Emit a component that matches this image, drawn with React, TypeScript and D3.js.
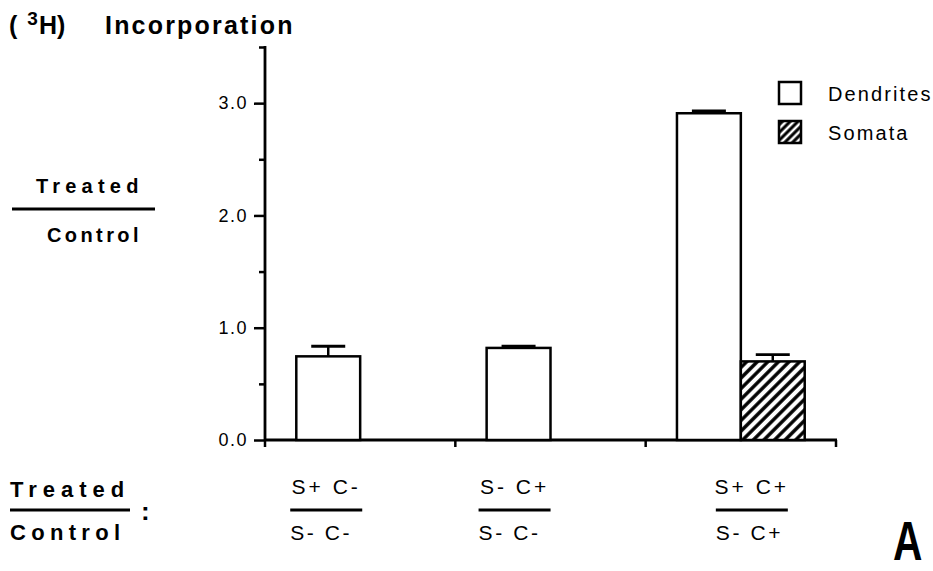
import React, { useRef, useEffect } from 'react';
import { select, scaleBand, scaleLinear, axisLeft, format, mean } from 'd3';

// treated / control ratio groups
const numerators = ['S+ C-', 'S- C+', 'S+ C+'];
const denominators = ['S- C-', 'S- C-', 'S- C+'];
const seriesNames = ['Dendrites', 'Somata'];

// values (null = no bar)
const dendrites = [0.745, 0.82, 2.91];
const dendritesErr = [0.09, 0.015, 0.02];
const somata = [null, null, 0.7];
const somataErr = [null, null, 0.06];

const majorTicks = [0, 1, 2, 3];
const minorTicks = [0.5, 1.5, 2.5, 3.5];

const FONT = '"Liberation Sans", Arial, Helvetica, sans-serif';

function App() {
  const svgRef = useRef(null);

  useEffect(() => {
    const width = 933;
    const height = 571;
    const svg = select(svgRef.current).attr('width', width).attr('height', height);
    svg.selectAll('*').remove();

    const defs = svg.append('defs');
    const addHatch = (id, size, stroke) => {
      const p = defs
        .append('pattern')
        .attr('id', id)
        .attr('patternUnits', 'userSpaceOnUse')
        .attr('width', size)
        .attr('height', size)
        .attr('patternTransform', 'rotate(45)');
      p.append('rect').attr('width', size).attr('height', size).attr('fill', '#fff');
      p.append('line')
        .attr('x1', size / 2)
        .attr('x2', size / 2)
        .attr('y1', 0)
        .attr('y2', size)
        .attr('stroke', '#000')
        .attr('stroke-width', stroke);
    };
    addHatch('hatch', 7.5, 3.4);
    addHatch('hatchSmall', 5.5, 3);

    const yScale = scaleLinear().domain([0, 3.5]).range([440, 47]);
    const xScale = scaleBand().domain(numerators).range([265, 836]).padding(0);
    const xSub = scaleBand()
      .domain(seriesNames)
      .range([0, xScale.bandwidth()])
      .paddingInner(0)
      .paddingOuter(0.49);

    // y axis: major ticks with labels
    const yAxis = svg
      .append('g')
      .attr('transform', 'translate(265,0)')
      .call(
        axisLeft(yScale)
          .tickValues(majorTicks)
          .tickSize(11)
          .tickSizeOuter(0)
          .tickPadding(6)
          .tickFormat(format('.1f'))
      );
    yAxis.select('.domain').remove();
    yAxis.selectAll('line').attr('stroke', '#000').attr('stroke-width', 2.5);
    yAxis
      .selectAll('text')
      .attr('font-family', FONT)
      .attr('font-size', 18)
      .attr('letter-spacing', 1.5)
      .attr('fill', '#000');

    // minor ticks
    const yMinor = svg
      .append('g')
      .attr('transform', 'translate(265,0)')
      .call(axisLeft(yScale).tickValues(minorTicks).tickSize(6).tickSizeOuter(0).tickFormat(() => ''));
    yMinor.select('.domain').remove();
    yMinor.selectAll('line').attr('stroke', '#000').attr('stroke-width', 2.5);

    svg
      .append('line')
      .attr('x1', 265)
      .attr('x2', 265)
      .attr('y1', yScale(0) + 1)
      .attr('y2', yScale(3.5) - 1)
      .attr('stroke', '#000')
      .attr('stroke-width', 2.8);

    // x axis with ticks at group boundaries
    const [x0, x1] = xScale.range();
    svg
      .append('line')
      .attr('x1', x0)
      .attr('x2', x1 + 1)
      .attr('y1', yScale(0))
      .attr('y2', yScale(0))
      .attr('stroke', '#000')
      .attr('stroke-width', 2.8);
    const edges = numerators.map((c) => xScale(c)).concat([x1]);
    svg
      .selectAll('.xtick')
      .data(edges)
      .join('line')
      .attr('class', 'xtick')
      .attr('x1', (d) => d)
      .attr('x2', (d) => d)
      .attr('y1', yScale(0))
      .attr('y2', yScale(0) + 7)
      .attr('stroke', '#000')
      .attr('stroke-width', 2.5);

    // bars
    const bars = [];
    numerators.forEach((cat, i) => {
      if (dendrites[i] != null)
        bars.push({ cat, series: 'Dendrites', value: dendrites[i], err: dendritesErr[i], fill: '#fff' });
      if (somata[i] != null)
        bars.push({ cat, series: 'Somata', value: somata[i], err: somataErr[i], fill: 'url(#hatch)' });
    });

    const g = svg.append('g');
    g.selectAll('.bar')
      .data(bars)
      .join('rect')
      .attr('class', 'bar')
      .attr('x', (d) => xScale(d.cat) + xSub(d.series))
      .attr('y', (d) => yScale(d.value))
      .attr('width', xSub.bandwidth())
      .attr('height', (d) => yScale(0) - yScale(d.value))
      .attr('fill', (d) => d.fill)
      .attr('stroke', '#000')
      .attr('stroke-width', 2.5);

    // error bars (upper only)
    const cx = (d) => xScale(d.cat) + xSub(d.series) + xSub.bandwidth() / 2;
    g.selectAll('.err')
      .data(bars)
      .join('line')
      .attr('class', 'err')
      .attr('x1', cx)
      .attr('x2', cx)
      .attr('y1', (d) => yScale(d.value))
      .attr('y2', (d) => yScale(d.value + d.err))
      .attr('stroke', '#000')
      .attr('stroke-width', 2.5);
    g.selectAll('.cap')
      .data(bars)
      .join('line')
      .attr('class', 'cap')
      .attr('x1', (d) => cx(d) - 17)
      .attr('x2', (d) => cx(d) + 17)
      .attr('y1', (d) => yScale(d.value + d.err))
      .attr('y2', (d) => yScale(d.value + d.err))
      .attr('stroke', '#000')
      .attr('stroke-width', 2.8);

    // legend
    const legend = svg.append('g').attr('transform', 'translate(779,82)');
    const legendFills = ['#fff', 'url(#hatchSmall)'];
    seriesNames.forEach((name, i) => {
      const row = legend.append('g').attr('transform', `translate(0,${i * 39})`);
      row
        .append('rect')
        .attr('width', 22)
        .attr('height', 22)
        .attr('fill', legendFills[i])
        .attr('stroke', '#000')
        .attr('stroke-width', 2.5);
      row
        .append('text')
        .attr('x', 49)
        .attr('y', 19)
        .attr('font-family', FONT)
        .attr('font-size', 20)
        .attr('letter-spacing', 2.1)
        .text(name);
    });

    // group labels under the x axis, centred on the bars of each group
    const shift = [-2, -4, 11];
    numerators.forEach((num, i) => {
      const centres = bars.filter((b) => b.cat === num).map(cx);
      const c = mean(centres) + shift[i];
      svg
        .append('text')
        .attr('x', c)
        .attr('y', 494)
        .attr('text-anchor', 'middle')
        .attr('font-family', FONT)
        .attr('font-size', 21)
        .attr('letter-spacing', 3)
        .text(num);
      svg
        .append('line')
        .attr('x1', c - 36)
        .attr('x2', c + 36)
        .attr('y1', 510)
        .attr('y2', 510)
        .attr('stroke', '#000')
        .attr('stroke-width', 2.8);
      svg
        .append('text')
        .attr('x', c - 36)
        .attr('y', 540)
        .attr('font-family', FONT)
        .attr('font-size', 21)
        .attr('letter-spacing', 2.6)
        .text(denominators[i]);
    });

    // left-hand fraction labels
    const bold = (sel) =>
      sel.attr('font-family', FONT).attr('font-weight', 'bold').attr('fill', '#000');

    bold(svg.append('text'))
      .attr('x', 36)
      .attr('y', 193)
      .attr('font-size', 20)
      .attr('letter-spacing', 5.2)
      .text('Treated');
    svg
      .append('line')
      .attr('x1', 12)
      .attr('x2', 155)
      .attr('y1', 209)
      .attr('y2', 209)
      .attr('stroke', '#000')
      .attr('stroke-width', 2.8);
    bold(svg.append('text'))
      .attr('x', 47)
      .attr('y', 242)
      .attr('font-size', 20)
      .attr('letter-spacing', 3.4)
      .text('Control');

    bold(svg.append('text'))
      .attr('x', 10)
      .attr('y', 497)
      .attr('font-size', 22)
      .attr('letter-spacing', 6)
      .text('Treated');
    svg
      .append('line')
      .attr('x1', 10)
      .attr('x2', 130)
      .attr('y1', 510)
      .attr('y2', 510)
      .attr('stroke', '#000')
      .attr('stroke-width', 3);
    bold(svg.append('text'))
      .attr('x', 10)
      .attr('y', 540)
      .attr('font-size', 22)
      .attr('letter-spacing', 5.3)
      .text('Control');
    bold(svg.append('text'))
      .attr('x', 141)
      .attr('y', 520)
      .attr('font-size', 26)
      .text(':');

    // title
    const title = bold(svg.append('text')).attr('x', 9).attr('y', 34).attr('font-size', 25);
    title.append('tspan').text('(');
    title.append('tspan').attr('dx', 10).attr('dy', -9).attr('font-size', 19).text('3');
    title.append('tspan').attr('dx', 1).attr('dy', 9).text('H)');
    bold(svg.append('text'))
      .attr('x', 105)
      .attr('y', 34)
      .attr('font-size', 25)
      .attr('letter-spacing', 2.2)
      .text('Incorporation');

    // panel letter (condensed)
    bold(svg.append('text'))
      .attr('transform', 'translate(893,560) scale(0.74,1)')
      .attr('font-size', 55)
      .text('A');
  }, []);

  return <svg ref={svgRef} style={{ position: 'absolute', left: 0, top: 0, background: '#fff' }} />;
}

export default App;
